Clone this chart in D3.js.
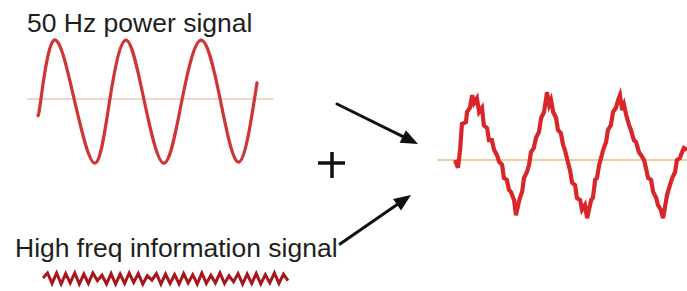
<!DOCTYPE html>
<html>
<head>
<meta charset="utf-8">
<script src="https://cdn.jsdelivr.net/npm/d3@7"></script>
<style>
  html, body { margin: 0; padding: 0; background: #fff; }
  svg { display: block; }
  text { font-family: "Liberation Sans", Arial, sans-serif; fill: #1e1e1e; }
</style>
</head>
<body>
<svg id="chart" width="687" height="291"></svg>
<script>
// ---------------- DATA ----------------
// 50 Hz power signal: time (ms), amplitude (read at peaks/troughs/zero crossings)
const powerT = [0, 0.8, 4.4, 9.9, 15.6, 19.7, 24.1, 29.0, 34.5, 39.5, 44.7, 49.9, 55.1, 60.0];
const powerV = [-0.27, 0, 0.98, 0, -1.07, 0, 0.98, 0, -1.07, 0, 0.98, 0, -1.05, 0.27];
const powerBaselineT = [-3, 64.4];

// High frequency information signal: samples (half-cycles), amplitude
const hfV = [0.1, 1, -0.9, 1, -1, 0.9, -0.8, 1, -1, 0.8, -0.9, 1, -0.4, 0.6, -1, 0.9, -1, 0.8,
  -0.9, 1, -0.7, 0.9, -1, 0.5, -0.3, 0.9, -1, 0.8, -0.9, 0.7, -1, 0.9, -0.8, 0.7, -1, 1, -0.9,
  0.6, -0.8, 1, -0.9, 0.5, -0.6, 0.9, -1, 0.8, -0.9, 0.9, -1, 0.7, -0.8, 1, -0.9, 0.8, -0.4];

// Combined (modulated) signal: time (ms), amplitude
const sumT = [0, 0.8, 1.4, 1.9, 3.0, 3.3, 4.1, 4.7, 5.2, 6.0, 6.6, 7.4, 7.9, 8.8, 9.3, 10.1, 10.7, 11.5,
  12.1, 12.9, 13.4, 14.2, 14.8, 15.3, 16.2, 16.7, 17.3, 17.8, 18.4, 18.9, 19.7, 20.3, 20.8, 21.6,
  22.2, 23.0, 23.6, 24.4, 24.9, 25.2, 25.8, 26.3, 26.9, 27.7, 28.2, 29.0, 29.6, 30.1, 31.0, 31.5,
  32.1, 32.9, 33.4, 34.3, 34.8, 35.6, 36.2, 36.7, 37.3, 37.8, 38.4, 38.9, 39.5, 40.0, 40.6, 41.4,
  41.9, 42.7, 43.3, 44.1, 44.7, 45.2, 45.8, 46.3, 46.9, 47.7, 48.2, 49.0, 49.6, 50.4, 51.0, 51.8,
  52.3, 52.9, 53.7, 54.3, 55.1, 55.6, 56.4, 57.0, 57.5, 58.1, 58.9, 59.5, 60.3, 60.8, 61.6, 62.2,
  62.7, 63.6];
const sumV = [0, -0.13, 0.17, 0.6, 0.63, 0.8, 0.87, 1.08, 0.95, 1.03, 0.8, 0.87, 0.58, 0.53, 0.33, 0.33,
  0.17, 0.08, -0.03, -0.08, -0.3, -0.33, -0.5, -0.53, -0.67, -0.92, -0.75, -0.63, -0.53, -0.3, -0.2,
  -0.08, 0.13, 0.2, 0.37, 0.47, 0.7, 0.8, 1.0, 1.13, 0.92, 1.0, 0.8, 0.7, 0.5, 0.45, 0.25, 0.17,
  -0.05, -0.17, -0.38, -0.42, -0.63, -0.67, -0.83, -0.75, -0.97, -0.83, -0.67, -0.63, -0.33, -0.3,
  -0.08, 0.03, 0.17, 0.3, 0.5, 0.58, 0.8, 0.87, 1.0, 1.08, 0.83, 0.92, 0.75, 0.58, 0.5, 0.33, 0.3,
  0.13, 0.08, 0, -0.13, -0.3, -0.33, -0.53, -0.63, -0.75, -0.83, -0.97, -0.8, -0.58, -0.42, -0.3,
  -0.2, 0, 0.03, 0.13, 0.2, 0.17];
const sumBaselineT = [-4.9, 63.6];

// Labels
const labels = ["50 Hz power signal", "High freq information signal"];

// ---------------- LAYOUT ----------------
const svg = d3.select("#chart");

const defs = svg.append("defs");
defs.append("filter").attr("id", "soft").attr("x", "-5%").attr("y", "-20%").attr("width", "110%").attr("height", "140%")
  .append("feGaussianBlur").attr("stdDeviation", 0.45);
defs.append("filter").attr("id", "blurhf").attr("x", "-5%").attr("y", "-50%").attr("width", "110%").attr("height", "200%")
  .append("feGaussianBlur").attr("stdDeviation", 0.7);

// Scales (left: power signal; right: combined; bottom: HF signal)
const xL = d3.scaleLinear().domain([0, 20]).range([38, 111]);
const yL = d3.scaleLinear().domain([-1, 1]).range([159, 39]);
const xR = d3.scaleLinear().domain([0, 20]).range([455, 528]);
const yR = d3.scaleLinear().domain([-1, 1]).range([220, 100]);
const xH = d3.scaleLinear().domain([0, hfV.length - 1]).range([43, 288]);
const yH = d3.scaleLinear().domain([-1, 1]).range([284, 273]);

// Baselines
svg.append("line")
  .attr("x1", xL(powerBaselineT[0])).attr("x2", xL(powerBaselineT[1]))
  .attr("y1", yL(0)).attr("y2", yL(0))
  .attr("stroke", "#ecc8bc").attr("stroke-width", 1.6);

svg.append("line")
  .attr("x1", xR(sumBaselineT[0])).attr("x2", xR(sumBaselineT[1]))
  .attr("y1", yR(0)).attr("y2", yR(0))
  .attr("stroke", "#e9bd85").attr("stroke-width", 1.6);

// Power signal
const powerData = powerT.map((t, i) => [t, powerV[i]]);
svg.append("path")
  .datum(powerData)
  .attr("fill", "none")
  .attr("stroke", "#cf3434")
  .attr("stroke-width", 3.2)
  .attr("stroke-linecap", "round")
  .attr("filter", "url(#soft)")
  .attr("d", d3.line().x(d => xL(d[0])).y(d => yL(d[1])).curve(d3.curveNatural));

// Combined signal
const sumData = sumT.map((t, i) => [t, sumV[i]]);
svg.append("path")
  .datum(sumData)
  .attr("fill", "none")
  .attr("stroke", "#d8282a")
  .attr("stroke-width", 4.2)
  .attr("stroke-linejoin", "miter")
  .attr("filter", "url(#soft)")
  .attr("d", d3.line().x(d => xR(d[0])).y(d => yR(d[1])));

// HF signal
svg.append("path")
  .datum(hfV)
  .attr("fill", "none")
  .attr("stroke", "#a8121a")
  .attr("stroke-width", 3)
  .attr("filter", "url(#blurhf)")
  .attr("d", d3.line().x((d, i) => xH(i)).y(d => yH(d)));

// Labels
svg.append("text").attr("x", 27).attr("y", 32)
  .attr("font-size", 26.5).text(labels[0]);
svg.append("text").attr("x", 15).attr("y", 257)
  .attr("font-size", 26.5).text(labels[1]);

// Annotations: plus sign and arrows
const ink = "#111";
svg.append("line").attr("x1", 318).attr("x2", 345).attr("y1", 163).attr("y2", 163)
  .attr("stroke", ink).attr("stroke-width", 3.5);
svg.append("line").attr("x1", 332).attr("x2", 332).attr("y1", 152).attr("y2", 178)
  .attr("stroke", ink).attr("stroke-width", 3.5);

const arrows = [
  { from: [337, 104], to: [418, 144] },
  { from: [340, 244], to: [411, 195] }
];
arrows.forEach(a => {
  const dx = a.to[0] - a.from[0], dy = a.to[1] - a.from[1];
  const len = Math.hypot(dx, dy), ux = dx / len, uy = dy / len;
  const hl = 17, hw = 7;
  const bx = a.to[0] - ux * hl, by = a.to[1] - uy * hl;
  svg.append("line")
    .attr("x1", a.from[0]).attr("y1", a.from[1]).attr("x2", bx + ux * 2).attr("y2", by + uy * 2)
    .attr("stroke", ink).attr("stroke-width", 3).attr("stroke-linecap", "round");
  svg.append("path")
    .attr("d", `M${a.to[0]},${a.to[1]}L${bx - uy * hw},${by + ux * hw}L${bx + uy * hw},${by - ux * hw}Z`)
    .attr("fill", ink);
});
</script>
</body>
</html>
